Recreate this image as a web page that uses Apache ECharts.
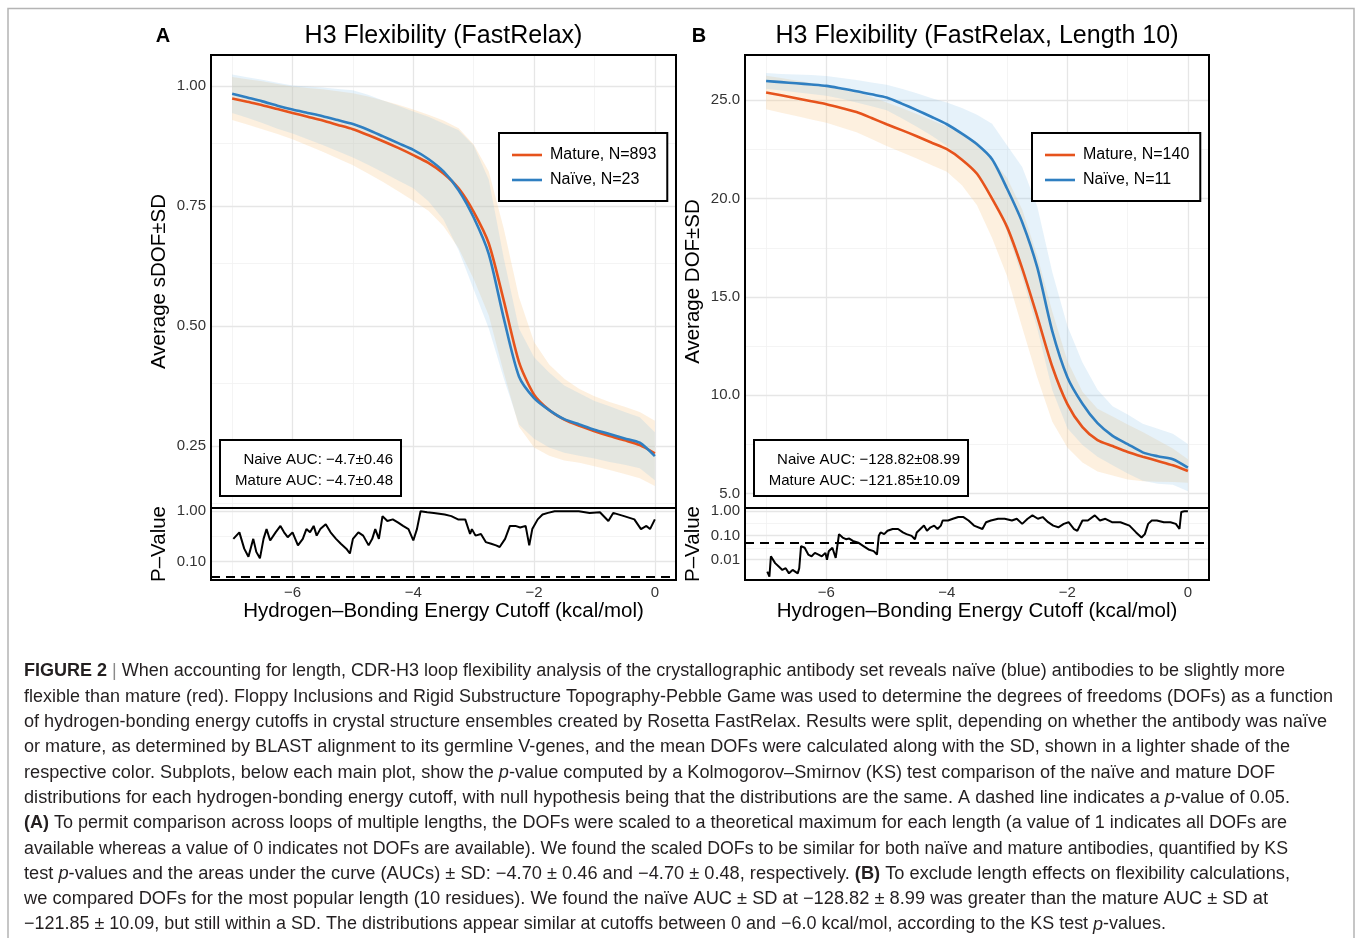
<!DOCTYPE html>
<html><head><meta charset="utf-8">
<script src="https://cdn.jsdelivr.net/npm/echarts@6.0.0/dist/echarts.min.js"></script>
<style>html,body{margin:0;padding:0;background:#fff}#c{width:1357px;height:938px}</style>
</head><body><div id="c"></div>
<script>
// ---------- data ----------
const xs = [-7,-6.75,-6.5,-6.25,-6,-5.75,-5.5,-5.25,-5,-4.75,-4.5,-4.25,-4,-3.75,-3.5,-3.25,-3,-2.75,-2.5,-2.25,-2,-1.75,-1.5,-1.25,-1,-0.75,-0.5,-0.25,0];

const matureMeanA = [0.974,0.967,0.960,0.952,0.944,0.936,0.928,0.919,0.910,0.898,0.885,0.871,0.856,0.840,0.818,0.787,0.738,0.672,0.552,0.425,0.357,0.325,0.305,0.292,0.281,0.271,0.262,0.252,0.235];
const matureSdA   = [0.045,0.047,0.050,0.052,0.055,0.060,0.065,0.070,0.075,0.080,0.085,0.090,0.095,0.100,0.110,0.125,0.140,0.150,0.150,0.135,0.110,0.095,0.085,0.077,0.073,0.071,0.070,0.069,0.068];
const naiveMeanA  = [0.984,0.976,0.968,0.959,0.951,0.944,0.937,0.929,0.921,0.909,0.895,0.881,0.867,0.848,0.822,0.783,0.726,0.650,0.515,0.395,0.350,0.325,0.306,0.295,0.284,0.275,0.266,0.257,0.229];
const naiveSdA    = [0.040,0.042,0.045,0.048,0.050,0.055,0.060,0.065,0.070,0.073,0.075,0.078,0.080,0.088,0.100,0.125,0.150,0.155,0.125,0.100,0.085,0.078,0.070,0.065,0.060,0.058,0.055,0.053,0.050];

const matureMeanB = [25.39,25.25,25.10,24.95,24.80,24.61,24.40,24.10,23.78,23.48,23.17,22.84,22.51,21.98,21.26,20.00,18.55,16.45,14.00,11.45,9.55,8.38,7.72,7.42,7.12,6.88,6.66,6.44,6.15];
const matureSdB   = [0.85,0.88,0.90,0.93,0.95,1.00,1.03,1.07,1.10,1.12,1.13,1.14,1.15,1.30,1.60,2.00,2.50,3.00,3.10,2.80,2.20,1.80,1.60,1.50,1.40,1.25,1.05,0.85,0.60];
const naiveMeanB  = [25.98,25.92,25.86,25.80,25.73,25.60,25.46,25.30,25.14,24.83,24.50,24.15,23.78,23.30,22.76,22.00,20.50,18.80,16.50,13.25,10.92,9.57,8.58,7.94,7.52,7.10,6.90,6.75,6.32];
const naiveSdB    = [0.40,0.42,0.45,0.48,0.50,0.53,0.57,0.60,0.65,0.75,0.85,0.95,1.10,1.30,1.50,1.80,2.20,2.80,3.10,3.00,2.60,2.10,1.70,1.50,1.50,1.45,1.40,1.30,1.20];

const pvalAx = [-6.98,-6.88,-6.80,-6.73,-6.65,-6.60,-6.54,-6.48,-6.43,-6.37,-6.28,-6.20,-6.14,-6.08,-6.00,-5.91,-5.83,-5.77,-5.71,-5.65,-5.60,-5.54,-5.45,-5.37,-5.28,-5.20,-5.11,-5.05,-5.00,-4.91,-4.83,-4.74,-4.68,-4.63,-4.57,-4.51,-4.43,-4.34,-4.25,-4.17,-4.08,-4.00,-3.94,-3.88,-3.77,-3.66,-3.48,-3.37,-3.26,-3.14,-3.06,-3.03,-2.97,-2.88,-2.80,-2.71,-2.63,-2.57,-2.48,-2.40,-2.31,-2.23,-2.14,-2.08,-2.03,-1.94,-1.86,-1.77,-1.66,-1.48,-1.26,-1.08,-0.91,-0.77,-0.69,-0.51,-0.34,-0.23,-0.14,-0.08,0.00];
const pvalA  = [0.283,0.381,0.181,0.125,0.283,0.156,0.116,0.283,0.442,0.263,0.381,0.512,0.381,0.305,0.381,0.210,0.283,0.442,0.381,0.512,0.328,0.442,0.552,0.381,0.283,0.226,0.181,0.145,0.283,0.381,0.328,0.210,0.283,0.442,0.283,0.80,0.64,0.69,0.594,0.512,0.442,0.263,0.442,1.0,0.956,0.928,0.861,0.80,0.69,0.69,0.353,0.442,0.328,0.353,0.244,0.226,0.210,0.195,0.283,0.512,0.512,0.476,0.512,0.210,0.442,0.69,0.861,0.928,1.0,1.0,1.0,0.928,0.956,0.64,0.928,0.80,0.69,0.442,0.512,0.442,0.69];

const pvalBx = [-6.98,-6.945,-6.92,-6.89,-6.85,-6.79,-6.73,-6.675,-6.62,-6.56,-6.475,-6.45,-6.42,-6.36,-6.30,-6.245,-6.19,-6.13,-6.075,-6.015,-5.99,-5.96,-5.90,-5.845,-5.815,-5.79,-5.73,-5.675,-5.62,-5.56,-5.47,-5.385,-5.30,-5.215,-5.16,-5.13,-5.10,-5.04,-4.985,-4.90,-4.81,-4.73,-4.67,-4.585,-4.53,-4.50,-4.44,-4.38,-4.33,-4.27,-4.21,-4.155,-4.10,-4.07,-3.98,-3.90,-3.81,-3.725,-3.64,-3.55,-3.41,-3.35,-3.27,-3.15,-3.04,-2.92,-2.84,-2.75,-2.66,-2.58,-2.49,-2.41,-2.32,-2.235,-2.15,-2.06,-1.98,-1.89,-1.835,-1.75,-1.66,-1.545,-1.46,-1.37,-1.26,-1.12,-0.97,-0.86,-0.77,-0.715,-0.66,-0.60,-0.515,-0.40,-0.29,-0.20,-0.14,-0.11,-0.06,0];
const pvalB  = [0.00321,0.00198,0.0138,0.0118,0.00723,0.00522,0.00378,0.00445,0.00273,0.00378,0.00273,0.00445,0.0366,0.0311,0.0163,0.0138,0.0191,0.0163,0.0138,0.0191,0.0100,0.0225,0.0311,0.0118,0.0100,0.114,0.0823,0.070,0.0747,0.0595,0.0506,0.0366,0.0265,0.0225,0.0163,0.0968,0.134,0.114,0.157,0.185,0.185,0.134,0.114,0.0968,0.070,0.134,0.185,0.256,0.157,0.218,0.256,0.185,0.256,0.417,0.417,0.490,0.576,0.576,0.417,0.256,0.185,0.354,0.417,0.490,0.490,0.417,0.490,0.301,0.490,0.678,0.490,0.576,0.354,0.256,0.218,0.301,0.354,0.185,0.157,0.417,0.417,0.678,0.417,0.490,0.354,0.354,0.256,0.134,0.0823,0.114,0.301,0.417,0.417,0.354,0.354,0.301,0.185,0.937,1.0,1.0];

const pThreshold = 0.05;

const xTicks = [-6,-4,-2,0];
const xMinor = [-7,-5,-3,-1];
const yTicksA = [0.25,0.50,0.75,1.00];
const yMinorA = [0.125,0.375,0.625,0.875];
const yTicksB = [5,10,15,20,25];
const yMinorB = [7.5,12.5,17.5,22.5];
const pTicksA = [0.1,1];
const pMinorA = [0.316];
const pTicksB = [0.01,0.1,1];
const pMinorB = [0.00316,0.0316,0.316];

const titleA = 'H3 Flexibility (FastRelax)';
const titleB = 'H3 Flexibility (FastRelax, Length 10)';
const seriesNamesA = ['Mature, N=893','Naïve, N=23'];
const seriesNamesB = ['Mature, N=140','Naïve, N=11'];
const aucA = ['Naive AUC: −4.7±0.46','Mature AUC: −4.7±0.48'];
const aucB = ['Naive AUC: −128.82±08.99','Mature AUC: −121.85±10.09'];
const xName = 'Hydrogen–Bonding Energy Cutoff (kcal/mol)';
const yNameA = 'Average sDOF±SD';
const yNameB = 'Average DOF±SD';
const pName = 'P–Value';

const captionLines = [
  [['b','FIGURE 2'],['g',' | '],['n','When accounting for length, CDR-H3 loop flexibility analysis of the crystallographic antibody set reveals naïve (blue) antibodies to be slightly more']],
  [['n','flexible than mature (red). Floppy Inclusions and Rigid Substructure Topography-Pebble Game was used to determine the degrees of freedoms (DOFs) as a function']],
  [['n','of hydrogen-bonding energy cutoffs in crystal structure ensembles created by Rosetta FastRelax. Results were split, depending on whether the antibody was naïve']],
  [['n','or mature, as determined by BLAST alignment to its germline V-genes, and the mean DOFs were calculated along with the SD, shown in a lighter shade of the']],
  [['n','respective color. Subplots, below each main plot, show the '],['i','p'],['n','-value computed by a Kolmogorov–Smirnov (KS) test comparison of the naïve and mature DOF']],
  [['n','distributions for each hydrogen-bonding energy cutoff, with null hypothesis being that the distributions are the same. A dashed line indicates a '],['i','p'],['n','-value of 0.05.']],
  [['b','(A)'],['n',' To permit comparison across loops of multiple lengths, the DOFs were scaled to a theoretical maximum for each length (a value of 1 indicates all DOFs are']],
  [['n','available whereas a value of 0 indicates not DOFs are available). We found the scaled DOFs to be similar for both naïve and mature antibodies, quantified by KS']],
  [['n','test '],['i','p'],['n','-values and the areas under the curve (AUCs) ± SD: −4.70 ± 0.46 and −4.70 ± 0.48, respectively. '],['b','(B)'],['n',' To exclude length effects on flexibility calculations,']],
  [['n','we compared DOFs for the most popular length (10 residues). We found the naïve AUC ± SD at −128.82 ± 8.99 was greater than the mature AUC ± SD at']],
  [['n','−121.85 ± 10.09, but still within a SD. The distributions appear similar at cutoffs between 0 and −6.0 kcal/mol, according to the KS test '],['i','p'],['n','-values.']]
];
const captionRight = [1285,1333,1327,1290,1275,1290,1287,1288,1290,1268,1166];

// ---------- styling ----------
const FONT = 'Liberation Sans';
const ORANGE = '#E6531C', BLUE = '#2F7FC1';
const FILL_M = 'rgba(250,205,150,0.30)', FILL_N = 'rgba(135,195,232,0.21)';
const MAJ = {color:'#e6e6e6', width:1.3, type:'solid'};
const MIN = {color:'#f1f1f1', width:0.8, type:'solid'};

function gridMarks(vMaj, vMin, hMaj, hMin, extra) {
  const d = [];
  vMin.forEach(v => d.push({xAxis:v, lineStyle:MIN}));
  hMin.forEach(v => d.push({yAxis:v, lineStyle:MIN}));
  vMaj.forEach(v => d.push({xAxis:v, lineStyle:MAJ}));
  hMaj.forEach(v => d.push({yAxis:v, lineStyle:MAJ}));
  (extra||[]).forEach(e => d.push(e));
  return {silent:true, symbol:['none','none'], label:{show:false}, animation:false, z:1,
          emphasis:{disabled:true}, data:d};
}

// SD ribbon drawn as a polygon through the axes' own coordinate mapping
function band(id, mean, sd, xi, yi, color) {
  const rows = xs.map((x,i)=>[x, mean[i]+sd[i], mean[i]-sd[i]]);
  return {type:'custom', name:id, xAxisIndex:xi, yAxisIndex:yi, silent:true, z:2, clip:true,
    data: rows, encode:{x:0, y:[1,2]},
    renderItem:(params, api) => {
      if (params.dataIndex !== 0) return null;
      const top = rows.map(r => api.coord([r[0], r[1]]));
      const bot = rows.slice().reverse().map(r => api.coord([r[0], r[2]]));
      return {type:'polygon', shape:{points:top.concat(bot)}, style:{fill:color, stroke:null}};
    }};
}
function meanLine(name, mean, xi, yi, color, marks) {
  const s = {type:'line', name:name, xAxisIndex:xi, yAxisIndex:yi, smooth:0.25,
    data: xs.map((x,i)=>[x, mean[i]]), symbol:'none', showSymbol:false,
    lineStyle:{color:color, width:2.6}, itemStyle:{color:color}, silent:true, z:3};
  if (marks) s.markLine = marks;
  return s;
}
function pLine(px, pv, xi, yi, marks) {
  return {type:'line', name:'p'+xi, xAxisIndex:xi, yAxisIndex:yi,
    data: px.map((x,i)=>[x, pv[i]]), symbol:'none', lineStyle:{color:'#000', width:2}, silent:true, z:3,
    markLine: marks};
}
const dashed = {yAxis:pThreshold, lineStyle:{color:'#000', width:2, type:[9,6]}};

const minus = v => (v < 0 ? '−' + Math.abs(v) : String(v));
const axLabel = {fontSize:15, color:'#333', fontFamily:FONT, margin:5};
const nameStyle = {fontSize:20.5, color:'#000', fontFamily:FONT};

function xAxes(gMain, gP) {
  return [
    {gridIndex:gMain, type:'value', min:-7.35, max:0.35, axisLine:{show:false}, axisTick:{show:false},
     axisLabel:{show:false}, splitLine:{show:false}},
    {gridIndex:gP, type:'value', min:-7.35, max:0.35, axisLine:{show:false}, axisTick:{show:false},
     axisLabel:Object.assign({customValues:xTicks, formatter:minus}, axLabel), splitLine:{show:false},
     name:xName, nameLocation:'middle', nameGap:21, nameTextStyle:nameStyle}
  ];
}

const GA = {left:211, w:465}, GB = {left:745, w:464};
const gridCommon = {show:true, borderColor:'#000', borderWidth:2, backgroundColor:'transparent', z:6};

// ---------- graphics ----------
const graphics = [];
graphics.push({type:'polyline', silent:true, z:0,
  shape:{points:[[8,938],[8,8.5],[1354,8.5],[1354,938]]}, style:{stroke:'#b4b4b4', lineWidth:1.5, fill:null}});
[['A',163,titleA,443.5],['B',699,titleB,977]].forEach(([lab,lx,t,tx]) => {
  graphics.push({type:'text', x:lx, y:36, silent:true, z:50,
    style:{text:lab, fontSize:20, fontWeight:'bold', fontFamily:FONT, fill:'#000', align:'center', verticalAlign:'middle'}});
  graphics.push({type:'text', x:tx, y:36, silent:true, z:50,
    style:{text:t, fontSize:25, fontFamily:FONT, fill:'#000', align:'center', verticalAlign:'middle'}});
});
[[220,181,aucA],[754,214,aucB]].forEach(([bx,bw,lines]) => {
  graphics.push({type:'rect', silent:true, z:50, shape:{x:bx, y:440, width:bw, height:56},
    style:{fill:'#fff', stroke:'#000', lineWidth:2}});
  lines.forEach((t,i) => graphics.push({type:'text', x:bx+bw-8, y:459.5+i*21, silent:true, z:51,
    style:{text:t, fontSize:15, fontFamily:FONT, fill:'#000', align:'right', verticalAlign:'middle'}}));
});

const ctx = document.createElement('canvas').getContext('2d');
const fontOf = k => (k==='b' ? 'bold ' : k==='i' ? 'italic ' : '') + '18px "' + FONT + '"';
const capColor = '#231f20';
captionLines.forEach((segs, i) => {
  let w = 0, str = '';
  segs.forEach(([k,t]) => {
    ctx.font = fontOf(k); w += ctx.measureText(t).width;
    str += (k === 'n') ? t : '{' + k + '|' + t + '}';
  });
  graphics.push({type:'text', x:24, y:671.5 + i*25.3, scaleX:(captionRight[i]-24)/w, silent:true, z:50,
    style:{text:str, fontSize:18, fontFamily:FONT, fill:capColor, align:'left', verticalAlign:'middle',
      rich:{
        b:{fontSize:18, fontFamily:FONT, fontWeight:'bold', fill:capColor},
        i:{fontSize:18, fontFamily:FONT, fontStyle:'italic', fill:capColor},
        g:{fontSize:18, fontFamily:FONT, fill:'#8a8a8a'}
      }}});
});

// ---------- option ----------
const legendCommon = {orient:'vertical', top:133, backgroundColor:'#fff', borderColor:'#000', borderWidth:2,
  padding:[14,11,13,13], itemGap:9, itemWidth:30, itemHeight:14, selectedMode:false, z:20,
  icon:'path://M0,0H30V2.6H0Z', itemStyle:{borderWidth:0},
  textStyle:{fontSize:16, color:'#000', fontFamily:FONT, padding:[0,0,0,3]}};

const option = {
  animation:false,
  backgroundColor:'#fff',
  textStyle:{fontFamily:FONT},
  grid:[
    Object.assign({left:GA.left, top:55, width:GA.w, height:453}, gridCommon),
    Object.assign({left:GA.left, top:508, width:GA.w, height:72}, gridCommon),
    Object.assign({left:GB.left, top:55, width:GB.w, height:453}, gridCommon),
    Object.assign({left:GB.left, top:508, width:GB.w, height:72}, gridCommon)
  ],
  xAxis:[...xAxes(0,1), ...xAxes(2,3)],
  yAxis:[
    {gridIndex:0, type:'value', min:0.121, max:1.0646, axisLine:{show:false}, axisTick:{show:false}, splitLine:{show:false},
     axisLabel:Object.assign({customValues:yTicksA, formatter:v=>v.toFixed(2)}, axLabel),
     name:yNameA, nameLocation:'middle', nameGap:41, nameTextStyle:nameStyle},
    {gridIndex:1, type:'log', logBase:10, min:0.0431, max:1.161, axisLine:{show:false}, axisTick:{show:false}, splitLine:{show:false},
     axisLabel:Object.assign({customValues:pTicksA, formatter:v=>Number(v).toFixed(2)}, axLabel),
     name:pName, nameLocation:'middle', nameGap:41, nameTextStyle:nameStyle},
    {gridIndex:2, type:'value', min:4.27, max:27.30, axisLine:{show:false}, axisTick:{show:false}, splitLine:{show:false},
     axisLabel:Object.assign({customValues:yTicksB, formatter:v=>v.toFixed(1)}, axLabel),
     name:yNameB, nameLocation:'middle', nameGap:41, nameTextStyle:nameStyle},
    {gridIndex:3, type:'log', logBase:10, min:0.00145, max:1.365, axisLine:{show:false}, axisTick:{show:false}, splitLine:{show:false},
     axisLabel:Object.assign({customValues:pTicksB, formatter:v=>Number(v).toFixed(2)}, axLabel),
     name:pName, nameLocation:'middle', nameGap:41, nameTextStyle:nameStyle}
  ],
  legend:[
    Object.assign({left:499, data:seriesNamesA}, legendCommon),
    Object.assign({left:1032, data:seriesNamesB}, legendCommon)
  ],
  series:[
    band('mA', matureMeanA, matureSdA, 0, 0, FILL_M),
    band('nA', naiveMeanA, naiveSdA, 0, 0, FILL_N),
    meanLine(seriesNamesA[0], matureMeanA, 0, 0, ORANGE, gridMarks(xTicks, xMinor, yTicksA, yMinorA)),
    meanLine(seriesNamesA[1], naiveMeanA, 0, 0, BLUE),
    pLine(pvalAx, pvalA, 1, 1, gridMarks(xTicks, xMinor, pTicksA, pMinorA, [dashed])),
    band('mB', matureMeanB, matureSdB, 2, 2, FILL_M),
    band('nB', naiveMeanB, naiveSdB, 2, 2, FILL_N),
    meanLine(seriesNamesB[0], matureMeanB, 2, 2, ORANGE, gridMarks(xTicks, xMinor, yTicksB, yMinorB)),
    meanLine(seriesNamesB[1], naiveMeanB, 2, 2, BLUE),
    pLine(pvalBx, pvalB, 3, 3, gridMarks(xTicks, xMinor, pTicksB, pMinorB, [dashed]))
  ],
  graphic:{elements:graphics}
};

const chart = echarts.init(document.getElementById('c'), null, {renderer:'canvas', width:1357, height:938});
chart.setOption(option);
</script>
</body></html>
